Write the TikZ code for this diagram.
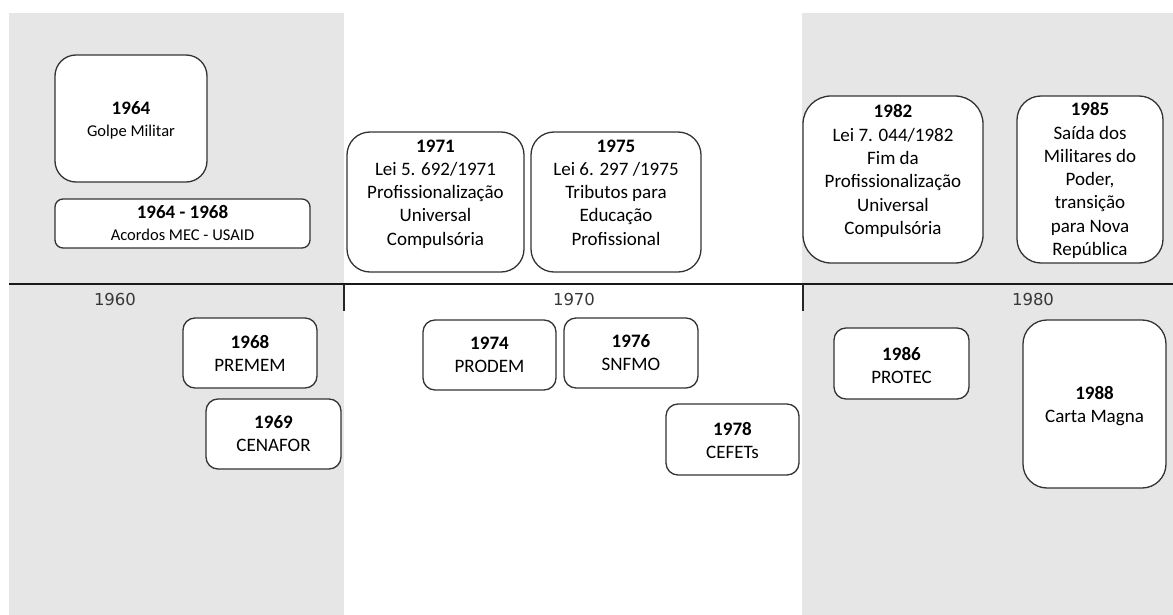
\documentclass[tikz,border=0pt]{standalone}
\usepackage{fontspec}
\setmainfont{Carlito}
\newfontfamily\axisfont{DejaVu Sans}

\definecolor{panel}{HTML}{E6E6E6}
\definecolor{edge}{HTML}{333333}
\definecolor{axislabel}{HTML}{383838}

\tikzset{
  event/.style={draw=edge, line width=1.3pt, fill=white, rectangle, inner sep=0pt},
  evtext/.style={align=center, inner sep=0pt, font=\fontsize{19}{23.3}\selectfont},
  smalltext/.style={align=center, inner sep=0pt, font=\fontsize{16.5}{22}\selectfont},
  decade/.style={font=\axisfont\fontsize{16.5}{18}\selectfont, text=axislabel, inner sep=0pt},
  axisline/.style={draw=black!90, line width=2.2pt},
  tickline/.style={draw=black!85, line width=1.2pt},
}

% \evbox{name}{x1}{y1}{x2}{y2}{corner radius}
\newcommand\evbox[6]{%
  \node[event, rounded corners=#6, minimum width={#4-#2}, minimum height={#5-#3}]
    (#1) at ({(#2+#4)/2},{(#3+#5)/2}) {};}

\begin{document}
\begin{tikzpicture}[x=1pt, y=-1pt]
  \useasboundingbox (0,0) rectangle (1173,615);

  % decade panels
  \fill[panel] (9,13) rectangle (344,615);
  \fill[panel] (802,13) rectangle (1173,615);

  % time axis
  \coordinate (axisL) at (9,284);
  \coordinate (axisR) at (1173,284);
  \coordinate (tickA) at (344,284);
  \coordinate (tickAend) at (344,311);
  \coordinate (tickB) at (803,284);
  \coordinate (tickBend) at (803,311);
  \draw[axisline] (axisL) -- (axisR);
  \draw[tickline] (tickA) -- (tickAend);
  \draw[tickline] (tickB) -- (tickBend);

  \node[decade] (d60) at (115,299) {1960};
  \node[decade] (d70) at (574,299) {1970};
  \node[decade] (d80) at (1033,299) {1980};

  % events above the axis
  \evbox{b64}{55}{55}{207}{182}{21}
  \evbox{b6468}{55}{199}{310}{248}{8}
  \evbox{b71}{347}{132}{524}{272}{23}
  \evbox{b75}{531}{132}{701}{272}{23}
  \evbox{b82}{803}{96}{983}{263}{28}
  \evbox{b85}{1017}{96}{1163}{263}{24}

  % events below the axis
  \evbox{b68}{183}{318}{317}{388}{12}
  \evbox{b69}{206}{399}{341}{469}{12}
  \evbox{b74}{423}{320}{556}{390}{12}
  \evbox{b76}{564}{318}{698}{388}{12}
  \evbox{b78}{666}{404}{799}{475}{12}
  \evbox{b86}{834}{328}{969}{399}{12}
  \evbox{b88}{1023}{320}{1166}{488}{24}

  % labels
  \node[smalltext] (t64) at (131,121)
    {\strut{\fontsize{19}{22}\selectfont\bfseries 1964}\\Golpe Militar\strut};
  \node[smalltext] (t6468) at (182.5,225)
    {\strut{\fontsize{19}{22}\selectfont\bfseries 1964 - 1968}\\Acordos MEC - USAID\strut};
  \node[evtext] (t71) at (435.5,194)
    {\strut\textbf{1971}\\Lei 5. 692/1971\\Profissionalização\\Universal\\Compulsória\strut};
  \node[evtext] (t75) at (616,194)
    {\strut\textbf{1975}\\Lei 6. 297 /1975\\Tributos para\\Educação\\Profissional\strut};
  \node[evtext] (t82) at (893,171.5)
    {\strut\textbf{1982}\\Lei 7. 044/1982\\Fim da\\Profissionalização\\Universal\\Compulsória\strut};
  \node[evtext] (t85) at (1090,181)
    {\strut\textbf{1985}\\Saída dos\\Militares do\\Poder,\\transição\\para Nova\\República\strut};

  \node[evtext] (t68) at (250,355) {\strut\textbf{1968}\\PREMEM\strut};
  \node[evtext] (t69) at (273.5,435.5) {\strut\textbf{1969}\\CENAFOR\strut};
  \node[evtext] (t74) at (489.5,356.5) {\strut\textbf{1974}\\PRODEM\strut};
  \node[evtext] (t76) at (631,354.5) {\strut\textbf{1976}\\SNFMO\strut};
  \node[evtext] (t78) at (732.5,442) {\strut\textbf{1978}\\CEFETs\strut};
  \node[evtext] (t86) at (901.5,367) {\strut\textbf{1986}\\PROTEC\strut};
  \node[evtext] (t88) at (1094.5,406.5) {\strut\textbf{1988}\\Carta Magna\strut};
\end{tikzpicture}
\end{document}
